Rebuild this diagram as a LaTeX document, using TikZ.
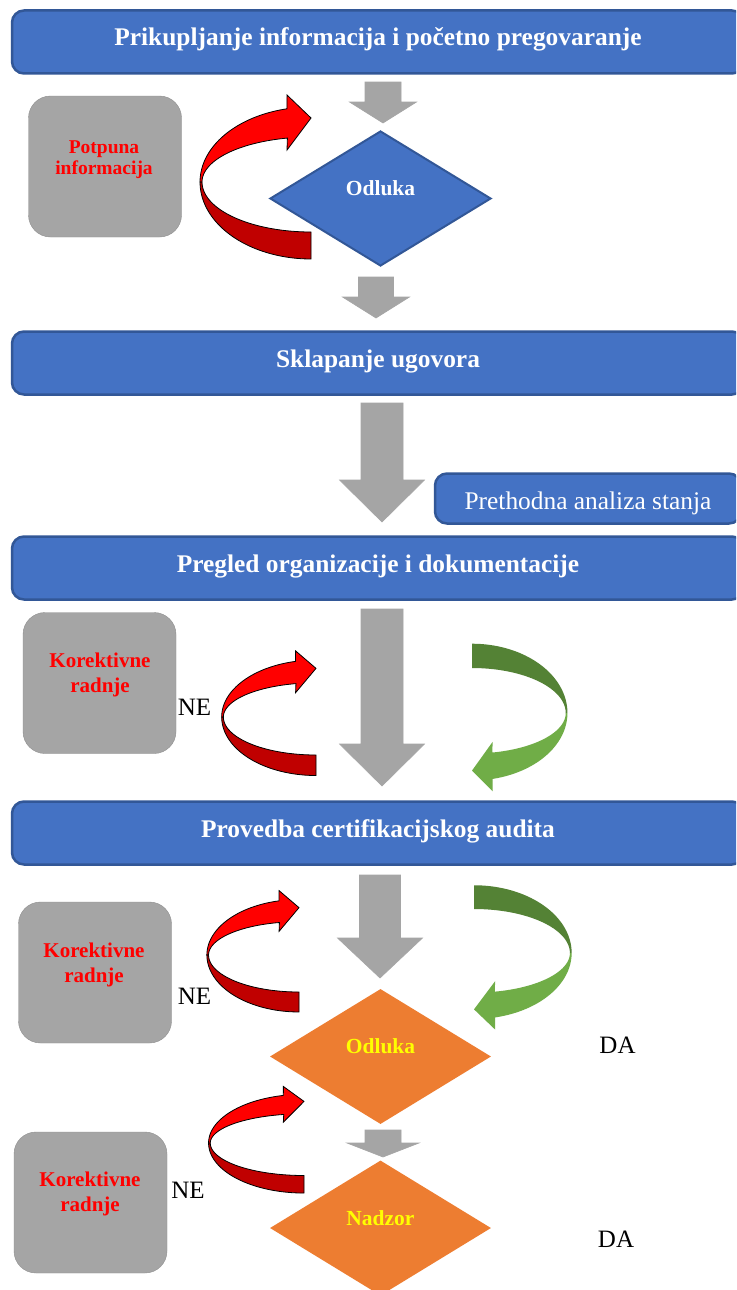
\documentclass[tikz,border=0pt]{standalone}
\usepackage{fontspec}
\setmainfont{Liberation Serif}
\usetikzlibrary{shapes.geometric}

\definecolor{plava}{HTML}{4472C4}
\definecolor{plavarub}{HTML}{2F528F}
\definecolor{siva}{HTML}{A5A5A5}
\definecolor{sivarub}{HTML}{8F8F8F}
\definecolor{crvena}{HTML}{FF0000}
\definecolor{tamnocrvena}{HTML}{C00000}
\definecolor{zelena}{HTML}{70AD47}
\definecolor{tamnozelena}{HTML}{548235}
\definecolor{narancasta}{HTML}{ED7D31}
\definecolor{zuta}{HTML}{FFFF00}

\tikzset{
	traka/.style={draw=plavarub!85!plava, line width=2.5pt, fill=plava, rounded corners=12pt,
		minimum width=732pt, minimum height=63pt, inner sep=0pt, text=white,
		font=\bfseries\fontsize{25.4}{30}\selectfont, text height=18pt, text depth=10pt},
	kutija/.style={draw=sivarub, fill=siva, rounded corners=22pt,
		minimum width=153pt, minimum height=141pt},
	opis/.style={text=red, font=\bfseries\fontsize{21}{25}\selectfont, align=center},
	odluka/.style={diamond, minimum width=221pt, minimum height=135pt, inner sep=0pt,
		font=\bfseries\fontsize{21.5}{25}\selectfont, text height=14pt, text depth=20pt},
	oznaka/.style={font=\fontsize{25}{30}\selectfont, anchor=base, inner sep=0pt},
	sivastr/.style={fill=siva, draw=sivarub!80, line width=0.6pt}
}

% zakrivljena strelica: x, y, xscale, yscale, tamna, svijetla, rub
\newcommand{\luk}[7]{%
	\begin{scope}[shift={(#1,#2)}, xscale=#3, yscale=#4]
		\filldraw[fill=#5, draw=#7, line width=0.8pt]
			plot[domain=90:180, variable=\t, samples=25, smooth] ({111*cos(\t)},{77*sin(\t)})
			-- plot[domain=180:90, variable=\t, samples=25, smooth] ({109*cos(\t)},{50*sin(\t)})
			-- cycle;
		\filldraw[fill=#6, draw=#7, line width=0.8pt]
			plot[domain=180:257.5, variable=\t, samples=25, smooth] ({111*cos(\t)},{75*sin(\t)})
			-- (-24,-87) -- (0,-64) -- (-24,-32)
			-- plot[domain=257.5:180, variable=\t, samples=25, smooth] ({109*cos(\t)},{45*sin(\t)})
			-- cycle;
	\end{scope}}

\begin{document}
\begin{tikzpicture}[x=1pt, y=-1pt]
	\useasboundingbox (0,0) rectangle (736,1290);
	\clip (0,0) rectangle (736,1290);
	\fill[white] (0,0) rectangle (736,1290);

	%trake
	\node[traka] (prikupljanje) at (378,42) {Prikupljanje informacija i početno pregovaranje};
	\node[traka] (sklapanje) at (378,363) {Sklapanje ugovora};
	\node[traka] (pregled) at (378,568) {Pregled organizacije i dokumentacije};
	\node[traka] (provedba) at (378,833) {Provedba certifikacijskog audita};
	\node[traka, minimum width=306pt, minimum height=50pt, font=\fontsize{25.4}{30}\selectfont,
		text height=22pt, text depth=1pt] (analiza) at (588,498.5) {Prethodna analiza stanja};

	%kutije
	\node[kutija] (potpuna) at (105,166.5) {};
	\node[opis, font=\bfseries\fontsize{19.5}{21}\selectfont] (potpunatxt) at (104,160) {Potpuna\\informacija};
	\node[kutija] (korektivne1) at (99.5,683) {};
	\node[opis] (korektivne1txt) at (100,675) {Korektivne\\radnje};
	\node[kutija] (korektivne2) at (95,972.5) {};
	\node[opis] (korektivne2txt) at (94,965) {Korektivne\\radnje};
	\node[kutija] (korektivne3) at (90.5,1202.5) {};
	\node[opis] (korektivne3txt) at (90,1194) {Korektivne\\radnje};

	%odluke
	\node[odluka, fill=plava, draw=plavarub!85!plava, line width=2pt, text=white] (odluka1) at (380.5,198.5) {Odluka};
	\node[odluka, fill=narancasta, text=zuta] (odluka2) at (380.5,1056.5) {Odluka};
	\node[odluka, fill=narancasta, text=zuta] (nadzor) at (380.5,1228) {Nadzor};

	%sive strelice
	\foreach \cx/\ya/\yb/\yc/\s/\h in {383/82/102/123/18/33.5, 376/277/297/318/17.5/33.5,
		382/403/480/522/21/42.5, 382/609/744/786/21/42.5, 380/875/938/978/20.5/42.5,
		383/1130/1143/1157/18/36}
		\draw[sivastr] ({\cx-\s},\ya) -- ({\cx+\s},\ya) -- ({\cx+\s},\yb) -- ({\cx+\h},\yb)
			-- (\cx,\yc) -- ({\cx-\h},\yb) -- ({\cx-\s},\yb) -- cycle;

	%crvene i zelene strelice
	\luk{311}{182}{1}{1}{tamnocrvena}{crvena}{black}
	\luk{316}{717}{0.85}{0.76}{tamnocrvena}{crvena}{black}
	\luk{299}{955}{0.83}{0.74}{tamnocrvena}{crvena}{black}
	\luk{304}{1143}{0.86}{0.65}{tamnocrvena}{crvena}{black}
	\luk{472}{713}{-0.86}{-0.9}{tamnozelena}{zelena}{none}
	\luk{474}{953}{-0.88}{-0.88}{tamnozelena}{zelena}{none}

	%oznake
	\node[oznaka] (ne1) at (194.5,715) {NE};
	\node[oznaka] (ne2) at (194.5,1004) {NE};
	\node[oznaka] (ne3) at (188,1198) {NE};
	\node[oznaka] (da1) at (617.5,1053) {DA};
	\node[oznaka] (da2) at (616,1247) {DA};
\end{tikzpicture}
\end{document}
